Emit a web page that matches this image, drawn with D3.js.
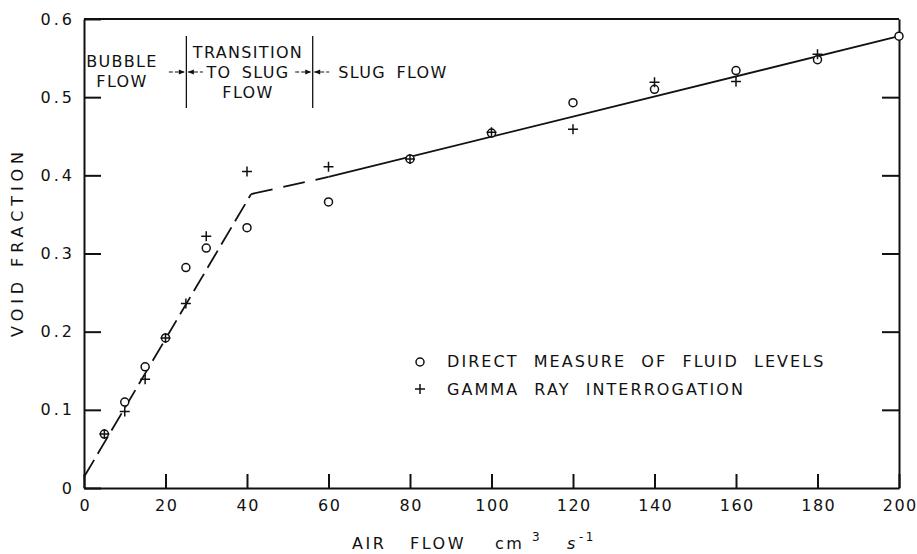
<!DOCTYPE html>
<head>
<meta charset="utf-8">
<style>
body { margin: 0; background: #fff; }
text { font-family: "DejaVu Sans", sans-serif; font-size: 16px; fill: #111; }
.axis path, .axis line { stroke: #111; stroke-width: 2px; }
.axis text { font-size: 16px; font-family: "DejaVu Sans", sans-serif; fill: #111; }
.fit { fill: none; stroke: #111; stroke-width: 1.8px; }
.circ { fill: #fff; stroke: #111; stroke-width: 1.5px; }
.plus { stroke: #111; stroke-width: 1.5px; }
</style>
</head>
<body>
<script src="https://cdn.jsdelivr.net/npm/d3@7"></script>
<script>
// air flow (cm3/s) and void fraction
var circleFlow = [5, 10, 15, 20, 25, 30, 40, 60, 80, 100, 120, 140, 160, 180, 200];
var circleVoid = [0.069, 0.110, 0.155, 0.192, 0.282, 0.307, 0.333, 0.366, 0.421, 0.454, 0.493, 0.510, 0.534, 0.548, 0.578];

var plusFlow = [5, 10, 15, 20, 25, 30, 40, 60, 80, 100, 120, 140, 160, 180];
var plusVoid = [0.069, 0.098, 0.139, 0.192, 0.236, 0.322, 0.405, 0.411, 0.421, 0.455, 0.459, 0.519, 0.520, 0.555];

// fitted line, broken into three pieces
var fitFlow = [0, 41, 60, 200];
var fitVoid = [0.014, 0.376, 0.398, 0.578];
var fitDash = ["20,7", "22,11", null];

var xTicks = [0, 20, 40, 60, 80, 100, 120, 140, 160, 180, 200];
var yTicks = [0, 0.1, 0.2, 0.3, 0.4, 0.5, 0.6];

var svg = d3.select("body").append("svg")
  .attr("width", 917)
  .attr("height", 554);

var x = d3.scaleLinear().domain([0, 200]).range([84, 899]);
var y = d3.scaleLinear().domain([0, 0.6]).range([488, 19]);

var yFmt = function(d) { return d === 0 ? "0" : d3.format(".1f")(d); };

// left axis
svg.append("g").attr("class", "axis")
  .attr("transform", "translate(84,0)")
  .call(d3.axisLeft(y).tickValues(yTicks).tickFormat(yFmt)
    .tickSizeInner(-17).tickSizeOuter(0).tickPadding(9))
  .selectAll("text").style("letter-spacing", "3px");

// bottom axis
svg.append("g").attr("class", "axis")
  .attr("transform", "translate(0,488)")
  .call(d3.axisBottom(x).tickValues(xTicks).tickFormat(d3.format("d"))
    .tickSizeInner(-14).tickSizeOuter(0).tickPadding(12))
  .selectAll("text").style("letter-spacing", "1.5px").attr("dx", "0.75px");

// right axis, ticks only
svg.append("g").attr("class", "axis")
  .attr("transform", "translate(899,0)")
  .call(d3.axisRight(y).tickValues(yTicks.slice(1, 6)).tickFormat("")
    .tickSizeInner(-17).tickSizeOuter(0));

// top edge
svg.append("line")
  .attr("x1", x(0)).attr("x2", x(200))
  .attr("y1", y(0.6)).attr("y2", y(0.6))
  .attr("stroke", "#111").attr("stroke-width", 2);

// fitted line
var line = d3.line().x(function(d) { return x(d[0]); }).y(function(d) { return y(d[1]); });
for (var i = 0; i < fitFlow.length - 1; i++) {
  svg.append("path").attr("class", "fit")
    .attr("d", line([[fitFlow[i], fitVoid[i]], [fitFlow[i + 1], fitVoid[i + 1]]]))
    .attr("stroke-dasharray", fitDash[i]);
}

// markers
svg.selectAll(".circ").data(circleFlow).enter().append("circle")
  .attr("class", "circ")
  .attr("cx", function(d) { return x(d); })
  .attr("cy", function(d, i) { return y(circleVoid[i]); })
  .attr("r", 4);

svg.selectAll(".plus").data(plusFlow).enter().append("path")
  .attr("class", "plus")
  .attr("d", function(d, i) {
    var px = x(d), py = y(plusVoid[i]);
    return "M" + (px - 5) + "," + py + "H" + (px + 5) + "M" + px + "," + (py - 5) + "V" + (py + 5);
  });

// letter spacing that makes a text node as wide as the lettering in the figure
function spacingFor(node, width) {
  var n = node.getNumberOfChars();
  return (width - node.getComputedTextLength()) / (n - 1);
}

// axis titles
var yl = svg.append("text")
  .attr("transform", "translate(23,242) rotate(-90)")
  .attr("text-anchor", "middle")
  .text("VOID FRACTION");
yl.style("letter-spacing", spacingFor(yl.node(), 185) + "px");

var xTitle = [
  { t: "AIR", x: 352, dy: 0, size: 16 },
  { t: "FLOW", x: 410, dy: 0, size: 16 },
  { t: "cm", x: 495, dy: 0, size: 16 },
  { t: "3", x: 532, dy: -8, size: 12 },
  { t: "s", x: 567, dy: 0, size: 16 },
  { t: "-1", x: 579, dy: -8, size: 12 }
];
svg.selectAll(".xt").data(xTitle).enter().append("text")
  .attr("x", function(d) { return d.x; })
  .attr("y", function(d) { return 549 + d.dy; })
  .style("font-size", function(d) { return d.size + "px"; })
  .style("font-style", function(d) { return d.t === "s" ? "italic" : null; })
  .style("letter-spacing", "2.5px")
  .text(function(d) { return d.t; });

// flow regime notes
var regimeX = [25, 56];
regimeX.forEach(function(v) {
  svg.append("line")
    .attr("x1", x(v) + 0.5).attr("x2", x(v) + 0.5)
    .attr("y1", 36).attr("y2", 108)
    .attr("stroke", "#111").attr("stroke-width", 1.3);
  // arrows pointing at the boundary from both sides
  svg.append("path")
    .attr("d", "M" + (x(v) - 17) + ",72H" + (x(v) - 2) + "M" + (x(v) + 2) + ",72H" + (x(v) + 17))
    .attr("stroke", "#111").attr("stroke-width", 1.2).attr("stroke-dasharray", "4,2");
  svg.append("path")
    .attr("d", "M" + (x(v) - 1) + ",72l-6,-2.5v5z M" + (x(v) + 2) + ",72l6,-2.5v5z")
    .attr("fill", "#111");
});

var notes = [
  { t: "BUBBLE", x: 122, y: 67 },
  { t: "FLOW", x: 122, y: 87 },
  { t: "TRANSITION", x: 248, y: 58 },
  { t: "TO SLUG", x: 248, y: 78 },
  { t: "FLOW", x: 248, y: 98 },
  { t: "SLUG FLOW", x: 393, y: 78 }
];
var noteText = svg.selectAll(".note").data(notes).enter().append("text")
  .attr("class", "note")
  .attr("x", function(d) { return d.x; })
  .attr("y", function(d) { return d.y; })
  .attr("text-anchor", "middle")
  .text(function(d) { return d.t; });
var noteLs = spacingFor(noteText.nodes()[2], 109);
noteText.style("letter-spacing", noteLs + "px")
  .style("word-spacing", "4px");

// legend
svg.append("circle").attr("class", "circ").attr("cx", 420).attr("cy", 362).attr("r", 4);
svg.append("path").attr("class", "plus").attr("d", "M415,389H425M420,384V394");
var leg1 = svg.append("text").attr("x", 447).attr("y", 367)
  .text("DIRECT MEASURE OF FLUID LEVELS");
var leg2 = svg.append("text").attr("x", 447).attr("y", 395)
  .text("GAMMA RAY INTERROGATION");
leg2.style("word-spacing", "8px");
var legLs = spacingFor(leg2.node(), 296);
leg1.style("letter-spacing", legLs + "px").style("word-spacing", "8px");
leg2.style("letter-spacing", legLs + "px");
</script>
</body>
